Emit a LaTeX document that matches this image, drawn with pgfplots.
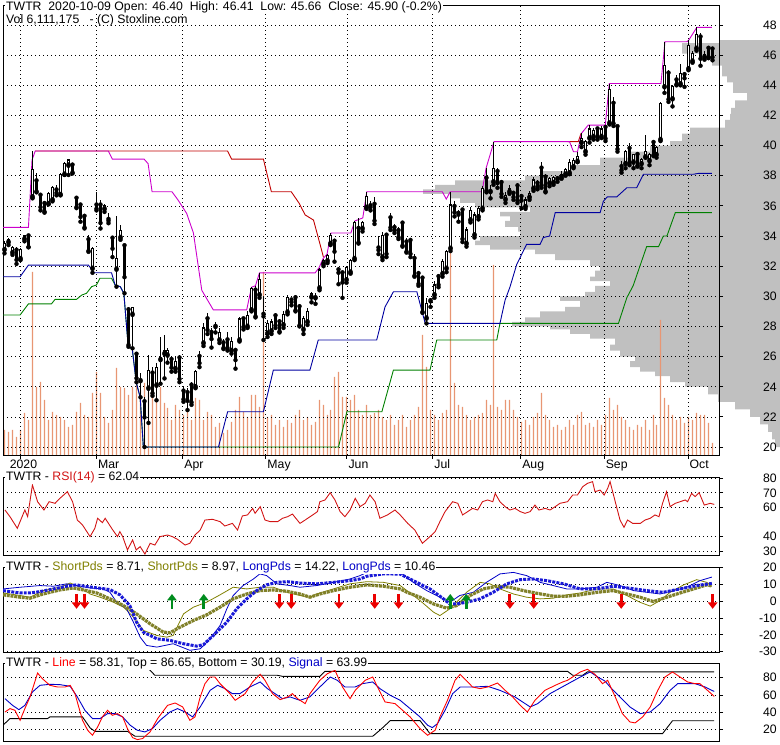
\documentclass[border=0pt]{standalone}
\usepackage{fontspec}
\setmainfont{Liberation Sans}
\usepackage{pgfplots}
\pgfplotsset{compat=1.18}
\usepackage{pgfplotstable}
\usetikzlibrary{arrows.meta}

\definecolor{cMag}{RGB}{204,0,204}
\definecolor{cRed}{RGB}{192,0,0}
\definecolor{cBlue}{RGB}{0,0,160}
\definecolor{cGreen}{RGB}{0,128,0}
\definecolor{cVol}{RGB}{232,150,115}
\definecolor{cProf}{RGB}{192,192,192}
\definecolor{cOlive}{RGB}{128,128,0}
\definecolor{cOliveT}{RGB}{128,128,40}
\definecolor{cBlueT}{RGB}{25,25,215}
\definecolor{cBlueL}{RGB}{0,0,200}
\definecolor{cArrR}{RGB}{235,0,0}
\definecolor{cArrG}{RGB}{0,140,30}
\definecolor{cRsi}{RGB}{210,20,20}

% place each day on a pixel centre (index -> snapped index)
\newcommand{\xsnap}{(floor(4.988+3.97557*\thisrow{i})+0.5-3)/3.97557-0.5}

\pgfplotstableread{
i O H L C
0 33.10 33.70 32.85 33.50
1 33.60 33.90 33.40 33.75
2 32.90 33.35 32.75 33.25
3 33.05 33.30 32.15 32.45
4 32.50 33.20 32.40 33.10
5 33.80 34.10 33.65 34.00
6 34.00 34.10 33.25 33.30
7 36.60 39.64 36.50 38.40
8 37.65 38.20 36.90 37.00
9 36.70 36.85 35.70 35.95
10 36.15 36.30 35.55 35.65
11 36.15 36.95 36.10 36.80
12 36.40 37.30 36.30 37.20
13 37.05 37.40 36.70 36.90
14 36.75 38.15 36.70 38.10
15 38.10 38.90 38.05 38.80
16 38.70 39.10 38.05 39.05
17 38.70 38.85 38.15 38.25
18 36.50 36.60 35.85 35.95
19 36.05 36.15 34.95 35.30
20 35.30 35.40 34.50 34.60
21 33.75 34.10 32.95 33.05
22 31.85 33.30 31.56 33.20
23 36.05 36.94 35.70 35.85
24 36.05 36.40 34.50 34.90
25 35.80 36.15 35.60 36.00
26 35.10 35.50 34.85 35.05
27 33.85 33.95 32.60 33.20
28 31.80 35.30 30.64 32.50
29 33.90 34.70 33.75 34.35
30 33.35 33.40 30.20 31.30
31 29.10 29.30 26.65 26.80
32 28.80 29.30 26.55 29.25
33 26.15 26.30 24.30 24.60
34 24.40 24.90 23.30 24.50
35 23.00 23.30 20.00 22.00
36 23.90 26.10 21.60 25.10
37 24.90 25.30 23.40 23.60
38 24.10 25.60 23.10 25.30
39 25.80 27.30 24.20 25.95
40 26.20 27.40 24.55 26.40
41 26.10 26.60 25.60 26.40
42 25.80 26.00 25.00 25.30
43 25.20 26.00 25.00 25.65
44 25.90 26.10 24.30 24.55
45 23.70 24.00 23.00 23.20
46 23.60 23.90 22.45 23.10
47 24.10 24.30 22.80 23.00
48 24.00 25.10 23.90 25.00
49 26.00 26.40 25.30 25.60
50 26.90 28.20 26.70 27.90
51 28.50 28.90 27.50 27.80
52 27.60 27.90 26.60 27.20
53 28.00 28.30 27.60 28.02
54 27.10 27.90 26.90 27.60
55 26.90 27.20 26.50 26.60
56 27.10 27.60 26.40 26.60
57 26.40 27.30 26.20 27.00
58 26.40 26.60 25.20 25.80
59 27.10 28.60 27.00 28.50
60 28.50 28.60 27.80 28.00
61 28.00 29.00 27.90 28.75
62 29.10 30.60 29.00 30.50
63 30.40 30.70 28.60 28.70
64 30.10 31.55 29.90 31.10
65 28.80 30.00 27.10 28.70
66 27.55 28.40 27.30 28.20
67 27.70 28.50 27.50 28.30
68 28.70 28.90 27.90 28.10
69 28.30 28.50 27.60 27.70
70 28.10 29.00 27.90 28.80
71 28.95 30.10 28.80 29.95
72 29.75 29.90 29.40 29.65
73 29.90 30.10 29.00 29.10
74 29.30 29.50 28.00 28.10
75 27.80 28.70 27.50 28.55
76 28.30 29.20 28.10 29.00
77 29.95 30.30 29.60 30.20
78 29.90 30.20 29.50 29.95
79 30.55 31.90 30.40 31.75
80 32.15 32.50 32.00 32.35
81 32.35 32.80 32.20 32.70
82 33.50 34.20 33.40 34.05
83 33.65 33.80 32.30 33.00
84 31.75 31.95 30.80 31.60
85 31.55 31.70 29.90 30.95
86 31.10 32.00 30.90 31.90
87 31.60 32.50 31.50 32.40
88 32.50 35.00 32.40 34.90
89 34.50 35.20 33.50 33.60
90 34.50 35.00 34.30 34.90
91 35.90 36.94 35.80 36.60
92 36.00 36.30 35.70 35.95
93 36.10 36.60 34.80 35.05
94 33.20 34.00 32.80 33.10
95 32.60 34.30 32.40 34.05
96 34.05 34.20 32.60 32.85
97 35.20 35.50 34.40 34.60
98 34.55 34.80 34.20 34.40
99 34.35 34.60 33.80 33.95
100 34.85 35.00 33.30 33.40
101 33.60 33.90 32.90 33.00
102 33.70 33.90 32.60 32.85
103 32.50 32.80 31.30 31.40
104 31.50 31.70 30.70 30.86
105 31.20 31.30 28.90 29.00
106 28.55 29.90 28.20 29.50
107 29.70 29.90 29.30 29.80
108 30.10 31.00 29.90 30.75
109 31.30 31.50 30.60 30.80
110 31.50 32.50 31.30 32.30
111 31.85 33.10 31.60 32.96
112 33.18 36.94 33.00 36.06
113 35.95 36.30 35.30 35.60
114 35.50 35.70 34.95 35.45
115 35.72 35.80 33.60 33.84
116 33.50 34.60 33.30 34.40
117 35.06 35.90 34.90 35.72
118 34.07 35.60 33.90 35.40
119 35.28 36.00 35.10 35.83
120 35.83 37.30 35.70 37.16
121 37.83 38.49 36.90 37.05
122 36.95 37.40 36.50 37.00
123 37.60 40.26 37.40 38.49
124 38.27 38.50 37.20 37.54
125 37.54 37.70 36.60 36.83
126 36.43 36.90 36.20 36.72
127 36.94 37.40 36.80 37.16
128 36.83 37.00 36.40 36.61
129 37.32 37.50 36.20 36.39
130 36.61 36.80 35.84 36.39
131 35.95 36.60 35.80 36.39
132 36.57 37.00 36.40 36.83
133 37.16 37.90 37.00 37.72
134 37.50 37.70 37.10 37.32
135 38.50 38.90 37.20 37.40
136 37.90 38.10 36.90 37.00
137 37.50 37.90 37.30 37.80
138 37.55 38.00 37.40 37.90
139 37.80 38.00 37.60 37.85
140 37.90 38.30 37.80 38.10
141 38.10 38.50 38.00 38.40
142 38.20 39.10 38.10 38.90
143 38.60 39.20 38.50 39.00
144 38.95 39.59 38.90 39.30
145 40.20 40.81 39.90 40.50
146 39.60 40.40 39.40 40.30
147 40.50 41.36 40.20 41.10
148 40.60 41.20 40.40 41.00
149 41.10 41.20 40.40 40.60
150 40.60 41.30 40.50 41.10
151 41.20 41.30 40.30 40.50
152 41.50 44.12 41.40 43.70
153 42.80 43.20 41.30 41.50
154 41.25 41.40 39.60 39.80
155 38.60 39.00 38.20 38.40
156 38.80 39.70 38.50 39.60
157 39.80 40.20 38.70 38.90
158 38.90 39.40 38.50 39.40
159 39.40 39.50 38.60 38.70
160 38.80 39.20 38.50 39.10
161 39.25 40.70 39.20 39.60
162 39.00 39.50 38.70 39.40
163 40.20 40.40 39.30 39.40
164 39.40 40.00 39.20 39.85
165 40.40 42.90 40.30 42.80
166 43.90 46.89 43.50 45.30
167 44.80 45.00 42.90 43.10
168 43.10 44.00 42.60 43.90
169 44.35 44.70 44.00 44.10
170 44.10 45.40 44.00 44.80
171 44.70 44.90 43.90 44.50
172 45.10 47.00 45.00 46.65
173 45.60 46.30 45.50 46.10
174 46.45 47.84 46.30 47.35
175 47.20 47.50 45.30 45.80
176 45.88 46.30 45.70 46.05
177 46.45 46.60 45.80 45.90
178 46.40 46.41 45.66 45.90
}\candles

\pgfplotstableread{
i v
0 12.5
1 11.5
2 12.5
3 9
4 12.5
5 21
6 17.5
7 91.5
8 34
9 36.5
10 27.5
11 17.5
12 21.5
13 20
14 19
15 17.5
16 14
17 15
18 21.5
19 26
20 20
21 19
22 31
23 41.5
24 31
25 19
26 16
27 22.5
28 43.5
29 34
30 33.5
31 30
32 34
33 42.5
34 32.5
35 36
36 31.5
37 37.5
38 27.5
39 34
40 26
41 23.5
42 17.5
43 25
44 22.5
45 20
46 22.5
47 17.5
48 28.5
49 27.5
50 17.5
51 21.5
52 20
53 14
54 16
55 11
56 12.5
57 16.5
58 22.5
59 29
60 21.5
61 19
62 30
63 30
64 24
65 91.5
66 19
67 20
68 15
69 17.5
70 14
71 17.5
72 16
73 20
74 22.5
75 17.5
76 19
77 15
78 16.5
79 27.5
80 25
81 20
82 22.5
83 39
84 41.5
85 29
86 29
87 27.5
88 30
89 22.5
90 20
91 25
92 20
93 21
94 22.5
95 19
96 17.5
97 20
98 15
99 17.5
100 20
101 14
102 17.5
103 20
104 24
105 60
106 44
107 22.5
108 20
109 17.5
110 21
111 22.5
112 104
113 36
114 25
115 24
116 20
117 17.5
118 19
119 20
120 21
121 27.5
122 25
123 95
124 24
125 22.5
126 27.5
127 27.5
128 22.5
129 19
130 16.5
131 17.5
132 15
133 19
134 21
135 31
136 20
137 17.5
138 14
139 15
140 12.5
141 14
142 17.5
143 15
144 20
145 21.5
146 15
147 16
148 14
149 17.5
150 15
151 20
152 28.5
153 22.5
154 25
155 19
156 17.5
157 14
158 12.5
159 15
160 14
161 17.5
162 12.5
163 20
164 15
165 67.5
166 28.5
167 25
168 20
169 17.5
170 19
171 16
172 19
173 17.5
174 21
175 20
176 20
177 16
178 6.1
}\volume

\pgfplotsset{
  panel/.style={
    scale only axis, anchor=south west, width=716bp,
    xmin=-0.5, xmax=179.6,
    axis line style={black, line width=0.8pt},
    tick style={black, line width=0.8pt},
    major tick length=4bp, tick align=outside,
    ytick pos=right, yticklabel pos=right,
    yticklabel style={anchor=east, inner sep=0pt, xshift=54bp},
    grid style={black, line width=0.7pt, dash pattern=on 0.7bp off 3.3bp},
    ymajorgrids=true,
    tick label style={font=\fontsize{12.3}{14}\selectfont},
  },
  wick/.style={only marks, mark=none, forget plot,
    error bars/y dir=plus, error bars/y explicit, error bars/error mark=none},
}

\begin{document}
\begin{tikzpicture}[font=\fontsize{12.3}{14}\selectfont]

% volume-at-price profile
\begin{axis}[scale only axis, at={(3bp,290bp)}, anchor=south west,
  width=777bp, height=450bp, xmin=0, xmax=777, x dir=reverse,
  ymin=19.47, ymax=49.33, hide axis]
\addplot[xbar interval, fill=cProf, draw=none] coordinates {
(5,20.0) (8,20.5) (12,21.0) (20,21.5) (30,22.0) (45,22.5) (62,23.0) (72,23.5)
(95,24.0) (110,24.3) (125,24.7) (140,25.0) (150,25.3) (145,25.7) (160,26.0)
(170,26.4) (165,26.8) (190,27.2) (210,27.5) (230,27.8) (268,28.0) (255,28.3)
(240,28.6) (215,29.0) (200,29.3) (220,29.7) (195,30.0) (185,30.3) (170,30.7)
(190,31.0) (185,31.3) (180,31.7) (190,32.0) (225,32.4) (245,32.8) (290,33.1)
(305,33.4) (300,33.7) (260,34.0) (262,34.3) (275,34.6) (270,35.0) (280,35.3)
(250,35.6) (305,35.9) (320,36.2) (330,36.5) (357,36.8) (345,37.1) (325,37.4)
(255,37.7) (240,38.0) (210,38.3) (180,38.7) (150,39.2) (130,39.6) (110,40.0)
(98,40.3) (90,40.8) (55,41.2) (50,41.7) (49,42.1) (45,42.5) (33,43.0) (47,43.5)
(53,44.2) (58,44.6) (68,45.3) (80,45.7) (98,46.1) (98,46.5) (60,46.8) (0,47.0)};
\end{axis}

% volume
\begin{axis}[scale only axis, at={(3bp,290bp)}, anchor=south west,
  width=716bp, height=450bp, xmin=-0.5, xmax=179.6, ymin=0, ymax=225, hide axis]
\addplot[ybar, bar width=1.1bp, bar shift=0pt, fill=cVol, draw=none]
  table[x expr={\xsnap}, y=v] {\volume};
\end{axis}

% price panel
\begin{axis}[panel, at={(3bp,290bp)}, height=450bp,
  ymin=19.47, ymax=49.33,
  ytick={20,22,24,26,28,30,32,34,36,38,40,42,44,46,48},
  yticklabels={20,22,24,26,28,30,32,34,36,38,40,42,44,46,48},
  xtick pos=left, xmajorgrids=true,
  xtick={3.8,23.0,44.7,65.6,86.0,107.6,129.7,150.7,171.8},
  xticklabels={\kern-12pt 2020,Mar,Apr,May,Jun,Jul,Aug,Sep,Oct},
  xticklabel style={anchor=north west, inner sep=0pt, xshift=1.5pt, yshift=-0.5pt}]
\addplot[cGreen, line width=0.9pt] coordinates {
(-0.5,28.76) (3.8,28.76) (5.9,29.5) (11.7,29.5) (12.6,29.8) (18,29.8) (19.3,30.08)
(20.5,30.2) (21.8,30.64) (23,30.75) (23.9,31.2) (26.8,31.2) (27.7,30.75) (29,30.64)
(29.9,30.2) (31,26.65) (32,26.55) (33,24.3) (34,23.3) (34.8,20.0) (83.9,20.0)
(86,22.34) (94.8,22.34) (97.7,25.1) (106.9,25.1) (108.6,27.1) (123.7,27.1)
(124.5,28.2) (154.3,28.2) (156.4,29.9) (158,30.7) (161.4,33.3) (164.4,33.3)
(165.6,34.0) (166.5,34.0) (168.6,35.55) (177.8,35.55)};
\addplot[cBlue, line width=0.9pt] coordinates {
(-0.5,31.3) (3.8,31.3) (5.9,32.07) (21,32.07) (22.4,31.56) (26.8,31.56) (27.7,30.75)
(29,30.64) (29.9,30.2) (31,26.65) (32,26.55) (33,24.3) (34,23.3) (34.8,20.0)
(53.7,20.0) (56,22.34) (65,22.34) (67.5,25.1) (76.7,25.1) (78.8,27.1) (93.5,27.1)
(95.6,29.3) (97.7,30.3) (103.6,30.3) (105.7,28.2) (124.5,28.2) (125.8,29.75)
(127,30.6) (128.7,32.1) (131.2,33.45) (134.6,33.45) (135.4,33.9) (137,34.0)
(138.4,35.55) (149.7,35.55) (150.5,36.3) (151.5,36.6) (153.9,36.6) (156.4,37.2)
(158.9,37.2) (160.6,38.1) (173.2,38.1) (174.5,38.16) (177.8,38.16)};
\addplot[cRed, line width=0.9pt] coordinates {
(7.6,39.64) (56,39.64) (57,39.1) (65,39.1) (67,36.94) (72,36.94) (74,36.17)
(75.5,35.4) (77.6,35.06) (79.2,33.5) (80.1,32.6)};
\addplot[cRed, line width=0.9pt] coordinates {
(141.5,40.26) (144.2,40.26) (144.9,40.81)};
\addplot[cMag, line width=0.9pt] coordinates {
(-0.5,34.57) (5.9,34.57) (6.8,39.04) (7.6,39.64) (26,39.64) (27,39.1) (35,39.1)
(36,38.8) (37,36.94) (42,36.94) (43.5,36.4) (45.7,35.5) (47.4,34.2) (49.5,30.4)
(52.4,29.1) (60.8,29.1) (62,30.6) (63,30.7) (64,31.55) (78,31.55) (79,31.9)
(80,32.5) (81,32.8) (82,34.2) (87,34.2) (88,35.0) (90,35.2) (91,36.94)
(110,36.94) (111,36.45) (112,36.94) (120,36.94) (121,38.49) (123,40.26)
(142,40.26) (143,39.59) (144,39.59) (145,40.81) (146.7,41.36) (151,41.36)
(152,44.12) (165,44.12) (166,46.89) (171.5,46.89) (172,47.0) (174,47.84)
(177.8,47.84)};
% candles: wicks, body outlines, white interiors
\addplot[wick, error bars/error bar style={black, line width=1bp}]
  table[x expr={\xsnap}, y=L, y error expr=\thisrow{H}-\thisrow{L}] {\candles};
\addplot[wick, error bars/error bar style={black, line width=3bp}]
  table[x expr={\xsnap}, y expr={min(\thisrow{O},\thisrow{C})-0.035},
        y error expr={abs(\thisrow{C}-\thisrow{O})+0.07}] {\candles};
\addplot[wick, error bars/error bar style={white, line width=1bp}]
  table[x expr={\xsnap}, y expr={\thisrow{O}+0.04},
        y error expr={(\thisrow{C}-\thisrow{O}>0.09)*(\thisrow{C}-\thisrow{O}-0.08)}] {\candles};
\end{axis}

% RSI panel
\begin{axis}[panel, at={(3bp,190bp)}, height=78bp,
  ymin=27.25, ymax=80.9, xtick=\empty,
  ytick={30,40,60,70,80}, yticklabels={30,40,60,70,80}]
\addplot[cRsi, line width=0.9pt] coordinates {
(0,58.2) (1.26,53.6) (3.1,45.6) (5.0,58.2) (5.7,53.6) (6.9,75.4) (8.2,63.9) (9.8,58.2)
(11.1,63.9) (12.6,62.8) (13.8,66.2) (15.7,70.8) (17.0,63.9) (18.2,51.3) (19.5,47.9)
(21.4,39.9) (22.6,45.6) (23.3,52.5) (24.5,49.5) (25.2,52.5) (27.0,44.9) (28.3,39.9)
(28.9,43.3) (29.6,39.9) (30.8,30.7) (32.1,37.6) (33.0,30.7) (34.0,33.0) (35.2,27.9)
(36.5,35.3) (37.7,34.1) (39.0,39.9) (40.9,41.0) (42.1,39.9) (43.4,38.0) (45.3,34.1)
(46.5,35.3) (47.8,41.0) (49.1,44.4) (50.3,51.3) (52.2,51.8) (54.1,50.2) (55.3,47.2)
(57.2,49.0) (58.5,44.4) (59.7,54.1) (61.0,54.8) (62.3,59.3) (62.9,55.9) (64.2,60.5)
(65.4,51.3) (66.7,50.2) (68.6,50.2) (69.8,52.5) (71.1,53.6) (72.3,55.4) (74.2,49.0)
(75.5,51.3) (77.4,54.8) (78.6,57.1) (79.2,63.9) (80.5,65.1) (81.8,70.1) (83.0,65.1)
(84.3,57.1) (85.5,53.6) (86.8,58.2) (88.1,66.2) (89.3,60.5) (90.6,62.8) (91.8,68.5)
(93.1,63.9) (94.3,52.5) (96.2,54.8) (98.1,58.2) (99.4,54.8) (101.3,49.0) (103.1,44.4)
(105.0,35.3) (106.9,39.9) (108.2,43.3) (109.4,50.2) (110.7,57.1) (112.6,63.9)
(113.9,62.8) (115.1,54.8) (116.4,57.1) (117.6,59.3) (118.9,58.2) (120.1,63.9)
(121.4,65.1) (122.7,63.9) (123.3,69.6) (124.5,63.9) (125.8,60.5) (127.0,58.2)
(128.3,59.3) (129.6,57.1) (130.8,55.9) (132.1,57.1) (133.3,61.6) (134.3,58.2)
(135.9,59.3) (137.1,58.2) (138.4,60.5) (139.6,62.8) (141.5,63.9) (142.8,68.5)
(144.0,68.5) (145.3,74.2) (146.5,76.5) (147.8,77.7) (148.4,70.8) (149.7,71.9)
(150.7,68.5) (151.6,73.1) (152.2,77.7) (153.5,63.9) (154.7,51.3) (155.7,46.3)
(156.6,51.3) (157.9,49.0) (159.8,49.0) (161.0,51.3) (162.3,52.5) (163.5,54.8)
(164.5,53.6) (165.4,62.8) (166.4,70.8) (167.3,60.5) (168.6,62.8) (169.8,63.9)
(171.1,65.1) (171.7,63.9) (172.7,69.6) (173.6,67.4) (174.6,70.1) (175.9,61.6)
(177.4,62.8) (178.4,62.04)};
\end{axis}

% ShortPds / LongPds panel
\begin{axis}[panel, at={(3bp,93bp)}, height=85bp,
  ymin=-30.2, ymax=20.2, xtick=\empty,
  ytick={-30,-20,-10,0,10,20}, yticklabels={-30,-20,-10,0,10,20}]
\addplot[cOlive, line width=0.8pt] coordinates {
(-0.5,4.8) (3.8,3.3) (6.3,2.3) (9.6,6.2) (13.8,8.2) (16.4,10.7) (18.9,8.2) (21.4,4.2)
(23.9,2.3) (27.3,-0.7) (29.8,-3.6) (32.3,-9.5) (34.8,-17.4) (38.2,-20.4) (40.7,-21.4)
(42.3,-20.4) (44.9,-7.6) (47.4,-3.6) (50.7,-0.7) (54.1,3.7) (57.4,8.2) (60.8,7.2)
(64.1,8.2) (67.5,8.2) (70.9,5.2) (74.2,3.3) (76.7,2.3) (79.2,4.8) (82.6,7.2)
(86.8,10.2) (91.0,11.5) (95.2,11.1) (99.4,9.2) (101.1,6.2) (104.4,0.3) (107.8,-6.6)
(109.4,-8.6) (111.9,-4.6) (116.1,5.2) (119.5,11.1) (122.0,10.2) (124.5,7.2)
(127.9,4.2) (131.2,2.3) (134.6,1.3) (137.9,1.7) (141.3,3.7) (144.7,4.8) (148.9,7.2)
(153.0,7.2) (156.4,3.3) (159.7,-0.7) (162.3,-3.0) (164.8,0.3) (167.3,5.2) (170.7,9.6)
(174.0,12.7) (176.5,11.1) (177.8,8.71)};
\addplot[cBlueL, line width=0.8pt] coordinates {
(-0.5,7.2) (3.8,8.2) (8.8,9.2) (12.2,8.8) (15.5,10.2) (18.0,9.2) (21.4,7.8) (24.7,7.2)
(26.4,5.2) (28.1,-0.7) (30.6,-4.6) (32.3,-12.5) (34.0,-21.4) (35.6,-26.3) (38.2,-27.3)
(42.3,-25.3) (46.5,-29.2) (49.1,-28.3) (51.6,-22.4) (54.1,-14.5) (55.8,-4.6)
(57.4,3.3) (59.9,9.2) (62.5,13.1) (64.1,16.1) (65.8,15.1) (68.4,10.2) (71.7,9.2)
(74.2,8.2) (78.4,9.2) (82.6,11.1) (86.8,13.1) (89.3,15.1) (91.0,17.0) (95.2,17.4)
(99.4,17.0) (102.7,11.1) (106.1,6.2) (109.4,2.3) (111.9,-0.7) (114.4,3.3)
(117.8,5.2) (121.1,11.1) (124.5,16.1) (127.9,17.0) (131.2,15.1) (134.6,11.1)
(137.9,9.2) (141.3,7.2) (144.7,7.2) (148.9,8.2) (151.4,11.1) (154.7,9.2) (158.1,6.2)
(161.4,5.2) (164.8,4.2) (168.1,6.2) (171.5,8.2) (174.8,12.1) (177.8,14.22)};
\addplot[cOliveT, line width=3.2pt, dash pattern=on 3pt off 0.8pt] coordinates {
(-0.5,3.7) (3.8,2.3) (6.3,1.7) (9.6,4.2) (13.8,6.6) (17.2,7.8) (19.7,6.6) (23.1,4.8)
(26.4,1.3) (29.8,-2.7) (33.1,-7.6) (36.5,-13.5) (39.8,-18.4) (41.5,-18.8)
(44.0,-15.5) (47.4,-11.5) (50.7,-8.2) (54.1,-3.6) (57.4,1.3) (60.8,4.2) (64.1,6.2)
(67.5,6.6) (70.9,5.8) (74.2,4.2) (76.7,2.3) (79.2,4.2) (82.6,6.2) (86.8,8.2)
(91.0,9.6) (95.2,8.8) (99.4,7.2) (101.1,5.2) (104.4,2.3) (107.8,-1.7) (111.1,-4.2)
(113.6,-2.7) (117.0,3.3) (120.3,7.2) (123.7,8.8) (127.0,8.2) (130.4,6.2)
(133.8,4.6) (137.9,2.9) (141.3,2.9) (144.7,3.7) (148.9,5.2) (153.0,6.2) (156.4,4.2)
(159.7,2.3) (163.1,-0.3) (166.5,2.3) (169.8,4.8) (173.2,7.2) (176.5,9.6) (177.8,8.97)};
\addplot[cBlueT, line width=3pt, dash pattern=on 3pt off 1.2pt] coordinates {
(-0.5,6.2) (1.26,5.6) (3.8,4.8) (6.3,4.8) (8.8,5.6) (12.2,7.2) (15.5,8.8) (18.0,9.6)
(20.6,8.6) (23.9,7.6) (26.4,6.8) (28.9,3.7) (31.4,-2.7) (33.1,-12.5) (34.8,-18.4)
(38.2,-22.4) (41.5,-23.3) (44.9,-25.3) (48.2,-26.7) (49.9,-25.9) (52.4,-20.4)
(55.8,-12.5) (58.3,-4.6) (60.8,1.3) (63.3,6.2) (65.8,9.6) (68.4,11.1) (70.9,11.5)
(74.2,10.7) (78.4,10.2) (82.6,11.1) (86.8,12.1) (89.3,13.1) (91.0,14.7) (95.2,16.1)
(99.4,16.0) (102.7,12.1) (106.9,7.2) (110.3,1.3) (111.9,-1.7) (113.6,-1.7)
(116.1,-0.7) (119.5,1.3) (122.8,5.2) (126.2,10.2) (129.6,12.7) (132.9,13.1)
(136.3,12.1) (140.5,10.2) (144.7,7.2) (148.9,7.2) (153.0,8.8) (157.2,7.6)
(161.4,6.2) (165.6,5.2) (169.8,7.2) (174.0,9.2) (177.8,10.46)};
\addplot[cArrR, line width=2.8pt, -{Triangle[length=6.5pt 0,width=9.5pt 0]},
  quiver={u=0, v=\thisrow{v}}] table[x=x, y=y] {
x y v
18 4.2 -8.8
20 4.2 -8.8
69 4.2 -8.8
72 4.2 -8.8
84 4.2 -8.8
93 4.2 -8.8
99 4.2 -8.8
127 4.2 -8.8
133 4.2 -8.8
155 4.2 -8.8
178 4.2 -8.8
};
\addplot[cArrG, line width=2.8pt, -{Triangle[length=6.5pt 0,width=9.5pt 0]},
  quiver={u=0, v=\thisrow{v}}] table[x=x, y=y] {
x y v
42 -4.6 8.8
50 -4.6 8.8
112 -4.6 8.8
116 -4.6 8.8
};
\end{axis}

% Line / Signal panel
\begin{axis}[panel, at={(3bp,4bp)}, height=78bp,
  ymin=6.8, ymax=96.9, xtick=\empty,
  ytick={20,40,60,80}, yticklabels={20,40,60,80}]
\addplot[black, line width=0.9pt] coordinates {
(34.6,97.5) (35.2,94.2) (36.5,88.4) (37.7,82.7) (68.5,82.7) (69.8,81.5) (79.2,81.5)
(80.5,87.3) (141.5,87.3) (142.8,82.7) (145.3,82.7) (146.5,86.65) (178.4,86.65)};
\addplot[black, line width=0.9pt] coordinates {
(-0.5,25.0) (1.26,32.7) (10.7,32.7) (11.3,34.6) (19.5,34.6) (21.4,22.0) (22.6,18.0)
(30.8,18.0) (32.7,12.3) (92.5,12.3) (94.5,20.0) (96.9,30.3) (104.4,30.3)
(106.9,15.3) (165.4,15.3) (167.9,30.19) (178.4,30.19)};
\addplot[cBlueL, line width=0.9pt] coordinates {
(0.0,55.7) (1.9,48.0) (3.5,43.0) (5.0,48.0) (6.9,63.4) (8.8,71.1) (11.3,72.3)
(13.8,71.9) (16.4,70.0) (18.2,57.7) (20.1,42.3) (22.0,32.7) (23.9,32.7) (25.8,38.4)
(27.7,38.4) (29.6,34.6) (31.5,25.0) (33.3,19.2) (35.2,17.3) (37.1,21.1) (39.0,30.7)
(41.5,40.3) (43.4,44.2) (45.3,40.3) (47.2,34.6) (49.1,46.1) (51.6,65.3) (53.5,71.1)
(55.3,67.3) (57.2,61.5) (59.1,61.5) (61.6,69.2) (64.2,75.0) (66.0,67.3) (67.9,61.5)
(69.8,55.7) (71.7,57.7) (74.2,53.8) (76.7,57.7) (79.2,69.2) (81.8,80.7) (83.6,76.9)
(85.5,69.2) (88.1,69.2) (89.9,73.0) (92.5,75.0) (94.3,67.3) (96.9,59.6) (99.4,53.8)
(101.9,44.2) (104.4,34.6) (106.3,25.0) (107.5,22.3) (108.8,26.9) (110.7,42.3)
(112.6,61.5) (114.5,69.2) (118.2,69.2) (121.4,70.0) (124.5,65.3) (128.3,57.7)
(132.1,46.1) (134.0,50.0) (137.1,61.5) (140.9,71.1) (144.7,80.7) (147.2,86.5)
(149.1,80.7) (150.9,76.1) (152.2,69.2) (154.7,57.7) (157.2,46.1) (159.8,38.4)
(162.3,40.3) (164.8,50.0) (167.3,65.3) (169.2,73.0) (171.1,73.0) (173.6,73.0)
(176.1,69.2) (178.4,63.99)};
\addplot[red, line width=0.9pt] coordinates {
(0.0,40.3) (1.26,44.2) (2.5,42.3) (3.8,30.7) (5.0,44.2) (6.3,57.7) (8.2,85.3)
(9.4,78.8) (11.3,71.1) (13.2,69.2) (15.1,69.2) (16.4,71.1) (17.6,61.5) (19.5,30.7)
(20.8,19.2) (22.0,13.4) (23.3,23.0) (24.5,34.6) (25.8,42.3) (27.0,36.5) (28.3,38.4)
(29.6,34.6) (30.8,21.1) (32.1,10.7) (33.3,8.4) (34.6,9.6) (36.5,17.3) (38.4,32.7)
(40.9,48.0) (42.8,50.7) (44.7,46.1) (46.5,30.7) (47.8,34.6) (49.1,57.7) (50.3,73.0)
(51.6,80.7) (52.8,80.7) (54.1,73.0) (56.6,61.5) (57.9,53.8) (60.4,61.5) (62.3,75.0)
(64.2,83.8) (65.4,76.9) (67.3,61.5) (69.2,54.6) (71.1,57.7) (72.3,61.5) (73.6,55.7)
(75.5,50.0) (76.7,61.5) (79.2,76.9) (81.1,84.6) (83.0,88.4) (84.9,69.2) (86.8,55.7)
(88.1,65.3) (90.6,76.9) (92.5,80.7) (93.7,69.2) (95.6,51.9) (98.1,50.0) (100.0,42.3)
(101.9,34.6) (104.4,21.1) (106.3,13.4) (108.2,19.2) (109.4,34.6) (111.3,53.8)
(113.2,76.9) (114.5,83.8) (116.4,75.0) (117.6,69.2) (119.5,67.3) (121.4,69.2)
(123.9,73.8) (125.8,65.3) (127.7,57.7) (129.6,48.0) (131.4,40.3) (133.3,53.8)
(135.8,65.3) (138.4,71.1) (140.3,75.0) (141.5,76.9) (144.7,86.5) (146.5,89.6)
(148.4,83.8) (150.3,73.0) (151.6,76.9) (153.5,57.7) (155.3,38.4) (157.2,28.8)
(158.5,27.7) (160.4,34.6) (162.3,46.1) (164.2,65.3) (166.0,80.7) (167.9,86.5)
(169.8,80.7) (171.7,75.0) (173.6,73.0) (174.8,73.0) (176.7,65.3) (178.4,58.31)};
\end{axis}

% titles
\node[anchor=west, fill=white, inner sep=1pt] at (5bp,738bp)
  {TWTR\ \ 2020-10-09 Open: 46.40\ \ High: 46.41\ \ Low: 45.66\ \ Close: 45.90 (-0.2\%)};
\node[anchor=west, inner sep=1pt] at (5bp,725bp)
  {Vol 6,111,175\ \ \ - (C) Stoxline.com};
\node[anchor=west, fill=white, inner sep=1pt] at (5bp,268bp)
  {TWTR - \textcolor{cRsi}{RSI(14)} = 62.04};
\node[anchor=west, fill=white, inner sep=1pt] at (5bp,178bp)
  {TWTR - \textcolor{cOlive}{ShortPds} = 8.71, \textcolor{cOlive}{ShortPds} = 8.97, \textcolor{cBlueL}{LongPds} = 14.22, \textcolor{cBlueL}{LongPds} = 10.46};
\node[anchor=west, fill=white, inner sep=1pt] at (5bp,82bp)
  {TWTR - \textcolor{red}{Line} = 58.31, Top = 86.65, Bottom = 30.19, \textcolor{cBlueL}{Signal} = 63.99};

\pgfresetboundingbox
\path (0,0) rectangle (780bp,745bp);
\end{tikzpicture}
\end{document}
